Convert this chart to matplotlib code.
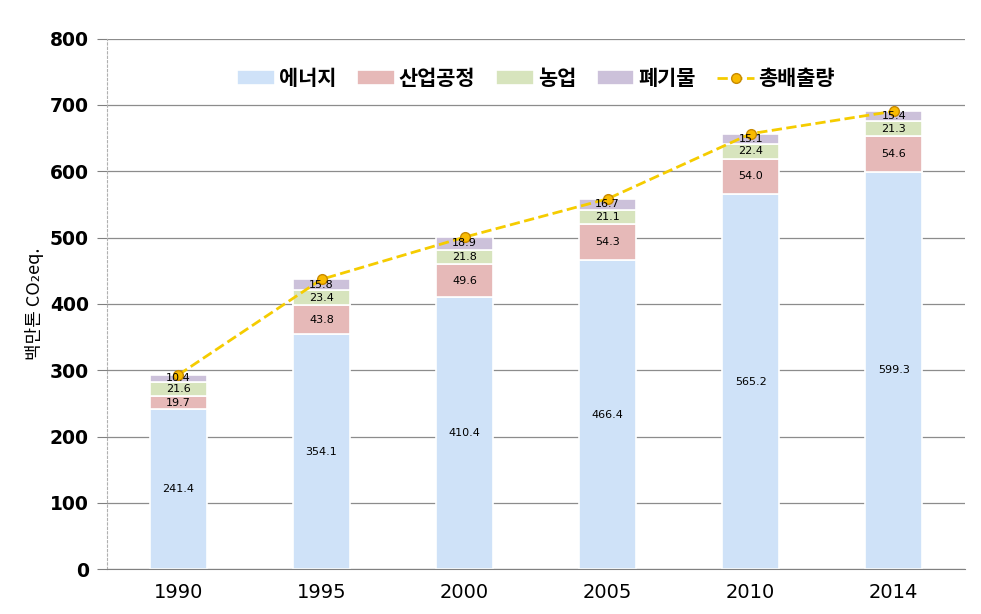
import numpy as np
import matplotlib.pyplot as plt

plt.rcParams['font.family'] = ['Noto Sans CJK KR', 'DejaVu Sans']

years = ['1990', '1995', '2000', '2005', '2010', '2014']
energy = [241.4, 354.1, 410.4, 466.4, 565.2, 599.3]
industry = [19.7, 43.8, 49.6, 54.3, 54.0, 54.6]
agri = [21.6, 23.4, 21.8, 21.1, 22.4, 21.3]
waste = [10.4, 15.8, 18.9, 16.7, 15.1, 15.4]
names = ['에너지', '산업공정', '농업', '폐기물']
total_name = '총배출량'

series = [energy, industry, agri, waste]
colors = ['#cfe2f8', '#e6b9b8', '#d7e4bd', '#ccc1da']

fig, ax = plt.subplots(figsize=(9.81, 6.14), dpi=100)
fig.subplots_adjust(left=0.109, right=0.984, top=0.937, bottom=0.073)

x = np.arange(len(years))
bottom = np.zeros(len(years))
handles = []
for vals, c, n in zip(series, colors, names):
    v = np.array(vals)
    h = ax.bar(x, v, 0.4, bottom=bottom, color=c, edgecolor='white', linewidth=1.2, label=n, zorder=2)
    handles.append(h)
    for xi, b, hh in zip(x, bottom, v):
        ax.text(xi, b + hh / 2, f'{hh:.1f}', ha='center', va='center', fontsize=8,
                family='DejaVu Sans', zorder=4)
    bottom = bottom + v

total = bottom
ln, = ax.plot(x, total, linestyle='--', color='#f5cc00', linewidth=2, marker='o', markersize=7,
              markerfacecolor='#f9bb00', markeredgecolor='#c88a00', markeredgewidth=1,
              label=total_name, zorder=3)
handles.append(ln)

ax.set_xlim(-0.5, 5.5)
ax.set_ylim(0, 800)
ax.set_yticks(range(0, 801, 100))
ax.set_xticks(x)
ax.set_xticklabels(years, fontsize=14, family='DejaVu Sans')
ax.tick_params(axis='y', labelsize=13.5, length=7, color='#808080', pad=6)
for t in ax.get_yticklabels():
    t.set_fontweight('bold')
    t.set_family('DejaVu Sans')
ax.tick_params(axis='x', length=0, pad=10)
ax.yaxis.grid(True, color='#8c8c8c', linewidth=0.9, zorder=0)
ax.set_axisbelow(True)
for s in ['top', 'right']:
    ax.spines[s].set_visible(False)
ax.spines['left'].set_linestyle((0, (2, 2)))
ax.spines['left'].set_color('#b0b0b0')
ax.spines['bottom'].set_color('#808080')

ax.set_ylabel('백만톤 CO₂eq.', fontsize=13)

ax.legend(handles=handles, loc='upper center', bbox_to_anchor=(0.5, 0.98), ncol=5, frameon=False,
          prop={'size': 15, 'weight': 'bold'}, handlelength=1.8, handletextpad=0.2,
          columnspacing=1.0)

fig.savefig('out.png', dpi=100)
